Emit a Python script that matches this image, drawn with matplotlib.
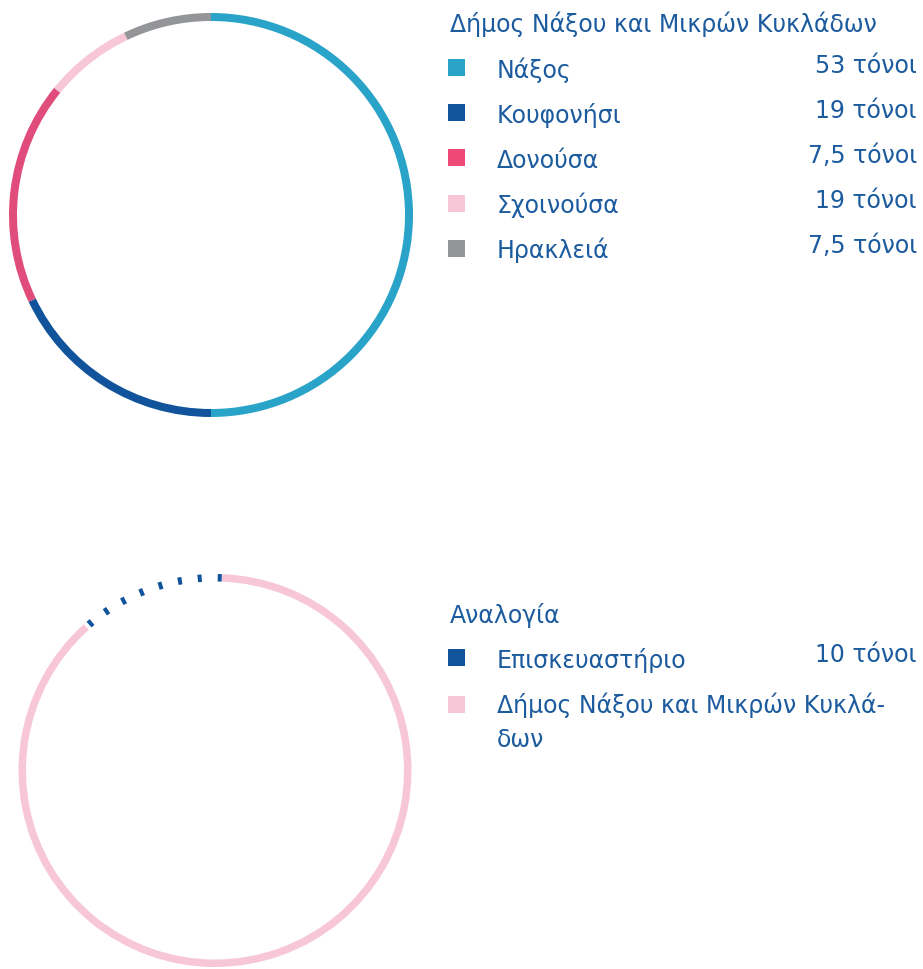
import matplotlib
matplotlib.use("Agg")
import matplotlib.pyplot as plt
from matplotlib.patches import Arc, Rectangle

plt.rcParams['font.family'] = ['DejaVu Sans']
plt.rcParams['lines.scale_dashes'] = False

# top ring: order on the ring, clockwise from 12 o'clock
ring_values = [53, 19, 19, 7.5, 7.5]
ring_colors = ["#29a3c8", "#11549b", "#e04c7b", "#f7c7d8", "#939598"]

# legend for the top ring
top_title = "Δήμος Νάξου και Μικρών Κυκλάδων"
top_labels = ["Νάξος", "Κουφονήσι", "Δονούσα", "Σχοινούσα", "Ηρακλειά"]
top_amounts = ["53 τόνοι", "19 τόνοι", "7,5 τόνοι", "19 τόνοι", "7,5 τόνοι"]
top_swatches = ["#29a3c8", "#11549b", "#ee4877", "#f7c7d8", "#939598"]

# bottom ring: repair shop vs municipality
share_values = [10, 72]
share_colors = ["#11549b", "#f7c7d8"]
bottom_title = "Αναλογία"
bottom_labels = ["Επισκευαστήριο", "Δήμος Νάξου και Μικρών Κυκλά-\nδων"]
bottom_amounts = ["10 τόνοι", ""]

TEXT = "#1b5b9e"
H = 970

fig = plt.figure(figsize=(9.23, 9.70), dpi=100)
ax = fig.add_axes([0, 0, 1, 1])

# top donut
ax.pie(ring_values, colors=ring_colors, startangle=90, counterclock=False,
       radius=202, center=(211, H - 216),
       wedgeprops=dict(width=8, linewidth=0))

# bottom donut: pink solid part, navy part drawn dashed
wedges, _ = ax.pie(share_values, colors=share_colors, startangle=88, counterclock=True,
                   radius=196.5, center=(215, H - 771.5),
                   wedgeprops=dict(width=7.5, linewidth=0))
nw = wedges[0]
nw.set_visible(False)
ax.add_patch(Arc((215, H - 771.5), 2 * 192.75, 2 * 192.75,
                 theta1=nw.theta1, theta2=nw.theta2,
                 color=share_colors[0], linewidth=5.4,
                 linestyle=(0, (2.9, 11.5))))

ax.set_xlim(0, 923)
ax.set_ylim(0, H)
ax.set_aspect("equal")
ax.axis("off")

fs = 17

# top legend
ax.text(450, H - 32, top_title, color=TEXT, fontsize=fs, va="baseline", ha="left")
for i, (lab, amt, col) in enumerate(zip(top_labels, top_amounts, top_swatches)):
    sq_top = 60 + i * 45.2
    ax.add_patch(Rectangle((448, H - sq_top - 17), 17, 17, color=col, lw=0))
    ax.text(497, H - (78 + i * 45), lab, color=TEXT, fontsize=fs, va="baseline", ha="left")
    ax.text(917, H - (73 + i * 45), amt, color=TEXT, fontsize=fs, va="baseline", ha="right")

# bottom legend
ax.text(450, H - 623, bottom_title, color=TEXT, fontsize=fs, va="baseline", ha="left")
for i, (lab, amt, col) in enumerate(zip(bottom_labels, bottom_amounts, share_colors)):
    sq_top = 650 + i * 47
    ax.add_patch(Rectangle((448, H - sq_top - 17), 17, 17, color=col, lw=0))
    for j, ln in enumerate(lab.split("\n")):
        ax.text(497, H - (668 + i * 45 + j * 34), ln, color=TEXT, fontsize=fs,
                va="baseline", ha="left")
    if amt:
        ax.text(917, H - (662 + i * 45), amt, color=TEXT, fontsize=fs, va="baseline", ha="right")

fig.savefig("out.png", dpi=100)
